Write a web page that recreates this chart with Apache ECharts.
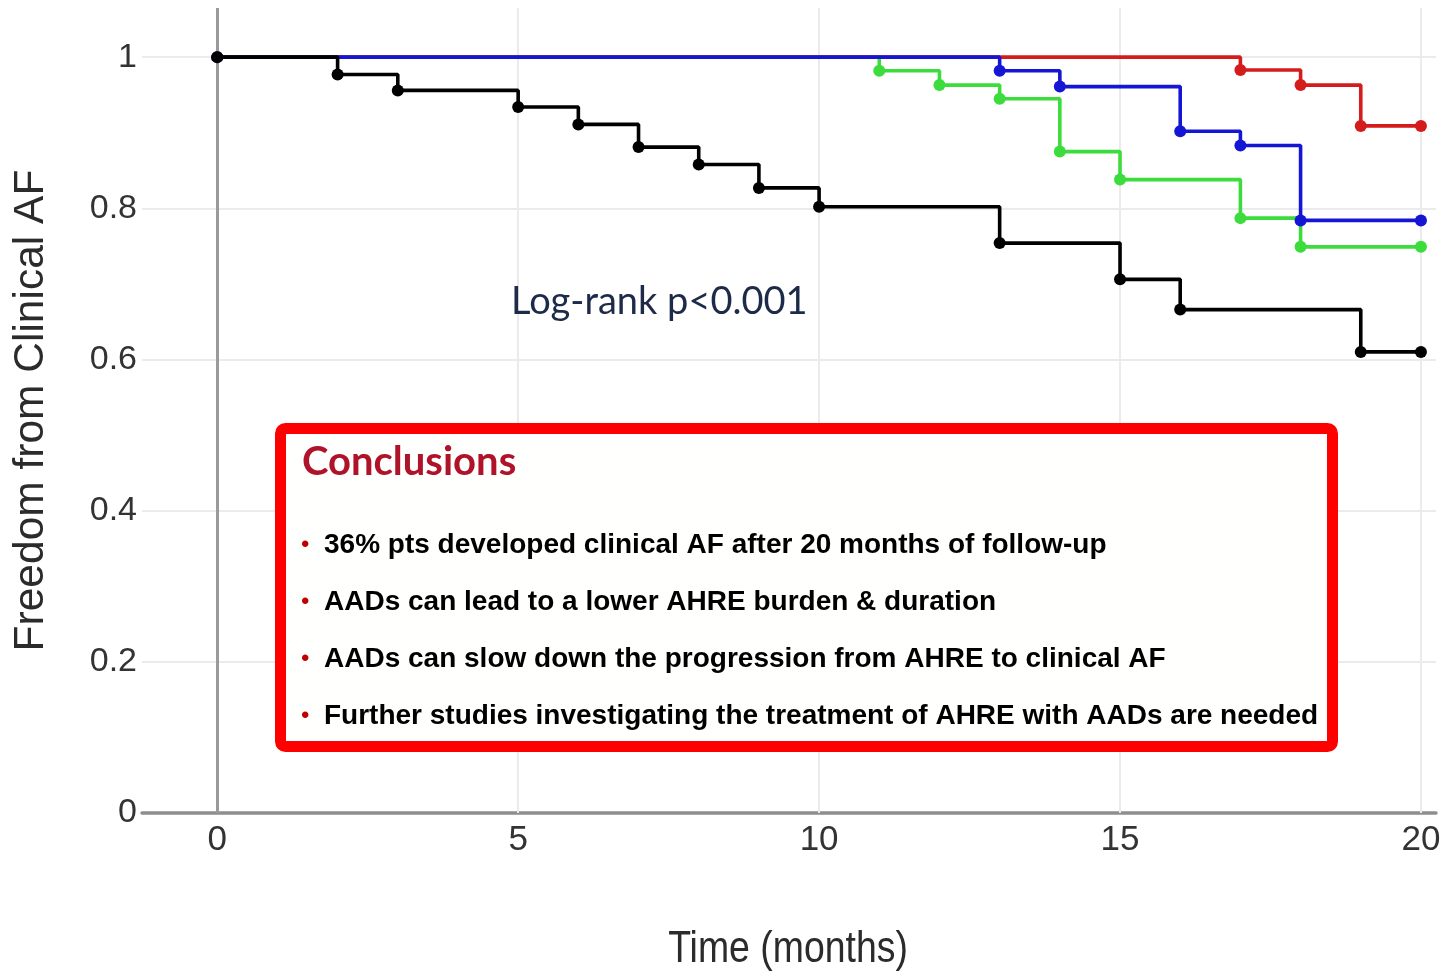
<!DOCTYPE html>
<html>
<head>
<meta charset="utf-8">
<script src="https://cdn.jsdelivr.net/npm/echarts@6/dist/echarts.min.js"></script>
<style>
  html, body { margin: 0; padding: 0; background: #ffffff; }
  #chart { width: 1442px; height: 976px; }
</style>
</head>
<body>
<div id="chart"></div>
<script>
// Kaplan–Meier curves: event times (months) and survival estimates per group
const blackTime = [0, 2, 3, 5, 6, 7, 8, 9, 10, 13, 15, 16, 19, 20];
const blackSurv = [1, 0.977, 0.956, 0.934, 0.911, 0.881, 0.858, 0.827, 0.802, 0.754, 0.706, 0.666, 0.610, 0.610];

const greenTime = [0, 11, 12, 13, 14, 15, 17, 18, 20];
const greenSurv = [1, 0.982, 0.963, 0.945, 0.875, 0.838, 0.787, 0.749, 0.749];

const blueTime = [0, 13, 14, 16, 17, 18, 20];
const blueSurv = [1, 0.982, 0.961, 0.902, 0.883, 0.784, 0.784];

const redTime = [0, 17, 18, 19, 20];
const redSurv = [1, 0.983, 0.963, 0.909, 0.909];

// Axis ticks
const xTicks = [0, 5, 10, 15, 20];
const yTicks = [0, 0.2, 0.4, 0.6, 0.8, 1];

// Text
const xTitle = 'Time (months)';
const yTitle = 'Freedom from Clinical AF';
const pValueText = 'Log-rank p<0.001';
const boxTitle = 'Conclusions';
const conclusions = [
  '36% pts developed clinical AF after 20 months of follow-up',
  'AADs can lead to a lower AHRE burden & duration',
  'AADs can slow down the progression from AHRE to clinical AF',
  'Further studies investigating the treatment of AHRE with AADs are needed'
];

const SANS = "'Liberation Sans', Arial, sans-serif";

const pairs = (xs, ys) => xs.map((x, i) => [x, ys[i]]);

function kmSeries(name, color, xs, ys, z) {
  return {
    name: name,
    type: 'line',
    step: 'end',
    data: pairs(xs, ys),
    z: z,
    symbol: 'circle',
    symbolSize: 12,
    showAllSymbol: true,
    lineStyle: { color: color, width: 3.6 },
    itemStyle: { color: color },
    emphasis: { disabled: true },
    silent: true,
    animation: false
  };
}

const gridLineStyle = { color: '#ebebeb', width: 2, type: 'solid' };

const chart = echarts.init(document.getElementById('chart'), null, { renderer: 'canvas' });

const option = {
  backgroundColor: '#ffffff',
  animation: false,
  grid: { left: 142, right: 6, top: 8, bottom: 163, containLabel: false, outerBoundsMode: 'none' },
  xAxis: {
    type: 'value',
    min: -1.25,
    max: 20.25,
    interval: 1.25,
    axisLine: { show: true, onZero: false, lineStyle: { color: '#8e8e8e', width: 3.5 } },
    axisTick: { show: false },
    splitLine: { show: false },
    axisLabel: {
      margin: 10,
      fontFamily: SANS,
      fontSize: 35,
      color: '#333333',
      formatter: function (v) {
        return xTicks.some(t => Math.abs(t - v) < 1e-6) ? String(Math.round(v)) : '';
      }
    }
  },
  yAxis: {
    type: 'value',
    min: 0,
    max: 1.065,
    interval: 0.2,
    name: yTitle,
    nameLocation: 'middle',
    nameGap: 89,
    nameRotate: 90,
    nameTextStyle: { fontFamily: SANS, fontSize: 42.5, color: '#2b2b2b' },
    axisLine: { show: false },
    axisTick: { show: false },
    splitLine: { show: false },
    axisLabel: {
      margin: 5,
      fontFamily: SANS,
      fontSize: 34,
      color: '#333333',
      formatter: function (v) {
        const t = yTicks.find(t => Math.abs(t - v) < 1e-6);
        return t === undefined ? '' : String(t);
      }
    }
  },
  series: [
    {
      // background grid and the zero-month axis line
      type: 'scatter',
      data: [],
      z: 0,
      silent: true,
      markLine: {
        z: 1,
        silent: true,
        symbol: ['none', 'none'],
        label: { show: false },
        animation: false,
        data: [
          ...xTicks.filter(t => t !== 0).map(t => ({ xAxis: t, lineStyle: gridLineStyle })),
          ...yTicks.filter(t => t !== 0).map(t => ({ yAxis: t, lineStyle: gridLineStyle })),
          { xAxis: 0, lineStyle: { color: '#9a9a9a', width: 3, type: 'solid' } }
        ]
      }
    },
    kmSeries('green', '#3bdc3b', greenTime, greenSurv, 2),
    kmSeries('red', '#d41c1c', redTime, redSurv, 3),
    kmSeries('blue', '#1515d4', blueTime, blueSurv, 4),
    kmSeries('black', '#000000', blackTime, blackSurv, 5)
  ],
  graphic: [
    {
      // horizontal axis title, drawn slightly condensed
      type: 'text',
      z: 10,
      x: 788, y: 950,
      scaleX: 0.85,
      style: {
        text: xTitle,
        x: 0, y: 0,
        align: 'center',
        verticalAlign: 'middle',
        font: "44px " + SANS,
        fill: '#2b2b2b'
      }
    },
    {
      type: 'text',
      z: 10,
      style: {
        text: pValueText,
        x: 511, y: 302,
        verticalAlign: 'middle',
        font: "38px Lato, 'Open Sans', sans-serif",
        fill: '#1d2a48'
      }
    },
    {
      type: 'rect',
      z: 20,
      shape: { x: 280.5, y: 428.5, width: 1052, height: 318, r: 5 },
      style: { fill: '#fffffd', stroke: '#ff0000', lineWidth: 11 }
    },
    {
      type: 'text',
      z: 21,
      style: {
        text: boxTitle,
        x: 302, y: 462,
        verticalAlign: 'middle',
        font: "bold 40px Lato, 'Open Sans', sans-serif",
        fill: '#b0122a'
      }
    },
    ...conclusions.flatMap((line, i) => [
      {
        type: 'text',
        z: 21,
        style: {
          text: '•',
          x: 301, y: 545 + i * 57,
          verticalAlign: 'middle',
          font: "24px " + SANS,
          fill: '#c00000'
        }
      },
      {
        type: 'text',
        z: 21,
        style: {
          text: line,
          x: 324, y: 545 + i * 57,
          verticalAlign: 'middle',
          font: "bold 28px " + SANS,
          fill: '#000000'
        }
      }
    ])
  ]
};

chart.setOption(option);
</script>
</body>
</html>
